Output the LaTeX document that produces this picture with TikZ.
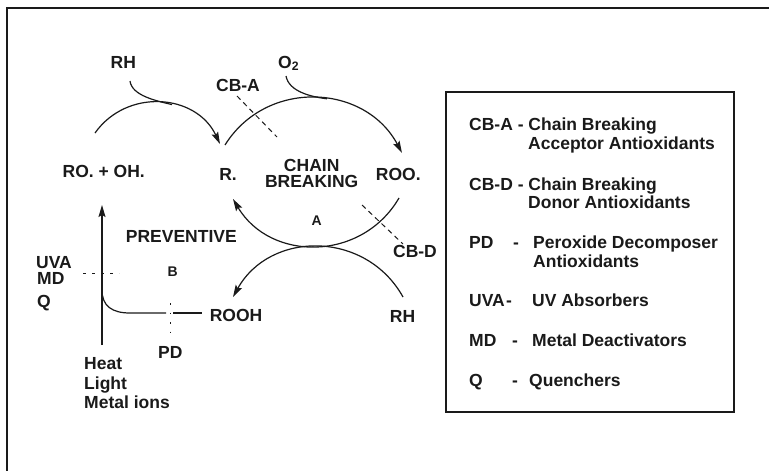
\documentclass[tikz,border=0pt]{standalone}
\usepackage{fontspec}
\setmainfont{Liberation Sans}
\usetikzlibrary{arrows.meta}
\definecolor{ink}{HTML}{1A1A1A}
\begin{document}
\begin{tikzpicture}[x=1pt,y=-1pt,
  lbl/.style={inner sep=0pt, font=\fontsize{17.5}{19}\selectfont\bfseries, text=ink},
  sml/.style={inner sep=0pt, font=\fontsize{14}{16}\selectfont\bfseries, text=ink},
  flow/.style={line width=1.2pt, draw=ink},
  arrowend/.style={-{Stealth[length=12pt,width=7pt,inset=2pt]}},
  cbdash/.style={line width=1pt, draw=ink, dash pattern=on 5pt off 4pt},
  thindash/.style={line width=0.6pt, draw=ink, dash pattern=on 3pt off 6pt},
  thindot/.style={line width=0.7pt, draw=ink, dash pattern=on 1.5pt off 8pt},
  frame/.style={line width=1.4pt, draw=ink}
  ]
\useasboundingbox (0,0) rectangle (769,471);
% outer frame (top and left sides)
\draw[frame] (7,471) -- (7,8) -- (769,8);

% ---- diagram labels ----
\node[lbl, anchor=base] (rhtop) at (123.3,68.3) {RH};
\node[lbl, anchor=base west] (o2) at (278,68) {O\textsubscript{2}};
\node[lbl, anchor=base] (cba) at (238,91.7) {CB-A};
\node[lbl, anchor=base] (ro) at (103.7,177.3) {RO. + OH.};
\node[lbl, anchor=base] (r) at (228,180) {R.};
\node[lbl, anchor=base] (chain1) at (311.7,171.2) {CHAIN};
\node[lbl, anchor=base] (chain2) at (311.7,187.5) {BREAKING};
\node[lbl, anchor=base] (roo) at (398.3,180.7) {ROO.};
\node[sml, anchor=base] (a) at (316.7,225) {A};
\node[lbl, anchor=base] (prev) at (181.3,242.7) {PREVENTIVE};
\node[lbl, anchor=base] (cbd) at (415,257.5) {CB-D};
\node[lbl, anchor=base west] (uva) at (36,268.2) {UVA};
\node[lbl, anchor=base west] (md) at (37,284.2) {MD};
\node[lbl, anchor=base west] (q) at (37,307.3) {Q};
\node[sml, anchor=base] (b) at (172.7,276) {B};
\node[lbl, anchor=base] (rooh) at (236,321.7) {ROOH};
\node[lbl, anchor=base] (rhbot) at (402.5,322.7) {RH};
\node[lbl, anchor=base] (pd) at (170.3,358.3) {PD};
\node[lbl, anchor=north west, align=left, font=\fontsize{17.5}{19.3}\selectfont\bfseries] (heat) at (84,357.5) {Heat\\Light\\Metal ions};

% ---- connector end points ----
\coordinate (ul0) at (95,133);
\coordinate (ul1) at (220,144);
\coordinate (rhs) at (130,81);
\coordinate (rhj) at (172,104.6);
\coordinate (ca0) at (225,145);
\coordinate (ca1) at (402,153);
\coordinate (o2s) at (286,76);
\coordinate (o2j) at (327,98.8);
\coordinate (cb0) at (399,198);
\coordinate (cb1) at (233,199);
\coordinate (dr0) at (403,297);
\coordinate (dr1) at (233,297);
\coordinate (vb) at (102,345);
\coordinate (vt) at (102,205);
\coordinate (e0) at (102,290);
\coordinate (e1) at (130,313);
\coordinate (g0) at (166,313);
\coordinate (g1) at (173,313);
\coordinate (g2) at (202,313);

% ---- arcs ----
% RO. + OH. -> R.
\draw[flow, arrowend] (ul0) .. controls (127.1,87.8) and (196.3,93.8) .. (ul1);
% RH joining
\draw[flow] (rhs) .. controls (132,96) and (157,100.9) .. (rhj);
% R. -> ROO.
\draw[flow, arrowend] (ca0) .. controls (266.6,78.4) and (365.2,83.7) .. (ca1);
% O2 joining
\draw[flow] (o2s) .. controls (289,92) and (312,96.9) .. (o2j);
% ROO. -> R. (A)
\draw[flow, arrowend] (cb0) .. controls (362,261.5) and (270.6,262.2) .. (cb1);
% RH -> ROOH
\draw[flow, arrowend] (dr0) .. controls (365.9,230.3) and (270.1,230.3) .. (dr1);
% Heat/Light/Metal ions -> RO. + OH.
\draw[flow, arrowend] (vb) -- (vt);
% ROOH -> decomposition branch
\draw[flow] (e0) .. controls (102,306) and (112,313) .. (e1) -- (g0);
\draw[flow] (g1) -- (g2);

% ---- inhibition marks ----
\draw[cbdash] (237,96) -- (277,137);
\draw[cbdash] (362,205) -- (403,244);
\draw[thindash] (83,273) -- (119,273);
\draw[thindot] (170,303) -- (170,337);

% ---- legend ----
\draw[frame] (446,92) rectangle (734,412);
\node[lbl, anchor=base west] (k1) at (469,130) {CB-A - Chain Breaking};
\node[lbl, anchor=base west] (k1b) at (528,149.3) {Acceptor Antioxidants};
\node[lbl, anchor=base west] (k2) at (469,190.7) {CB-D - Chain Breaking};
\node[lbl, anchor=base west] (k2b) at (528,208.3) {Donor Antioxidants};
\node[lbl, anchor=base west] (k3) at (469,248) {PD};
\node[lbl, anchor=base west] (k3d) at (513,248) {-};
\node[lbl, anchor=base west] (k3t) at (533,248) {Peroxide Decomposer};
\node[lbl, anchor=base west] (k3b) at (533,267.7) {Antioxidants};
\node[lbl, anchor=base west] (k4) at (469,306.7) {UVA};
\node[lbl, anchor=base west] (k4d) at (506,306.7) {-};
\node[lbl, anchor=base west] (k4t) at (532,306.7) {UV Absorbers};
\node[lbl, anchor=base west] (k5) at (469,346.7) {MD};
\node[lbl, anchor=base west] (k5d) at (512,346.7) {-};
\node[lbl, anchor=base west] (k5t) at (532,346.7) {Metal Deactivators};
\node[lbl, anchor=base west] (k6) at (469,386.5) {Q};
\node[lbl, anchor=base west] (k6d) at (512,386.5) {-};
\node[lbl, anchor=base west] (k6t) at (529,386.5) {Quenchers};
\end{tikzpicture}
\end{document}
